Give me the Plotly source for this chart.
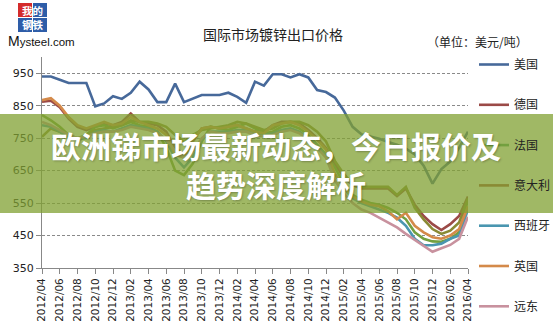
import plotly.graph_objects as go

W, H = 553, 329
ML, MR, MT, MB = 42, 85, 57, 61
PW, PH = W - ML - MR, H - MT - MB

def px(xp):
    return (xp - ML) / PW

def py(yp):
    return (H - MB - yp) / PH

# ---- data ----
months = []
for y in range(2012, 2017):
    for m in range(1, 13):
        if (y == 2012 and m < 4) or (y == 2016 and m > 4):
            continue
        months.append(f"{y}/{m:02d}")
tick_labels = months[::2]

series_names = ["美国", "德国", "法国", "意大利", "西班牙", "英国", "远东"]
series_colors = ["#47699A", "#9B4A47", "#73A03F", "#8A8A34", "#4A96B0", "#D48A4A", "#C8919E"]

us = [940, 940, 930, 920, 920, 920, 848, 857, 879, 871, 890, 924, 900, 861, 861, 918, 861,
      871, 883, 883, 883, 890, 877, 859, 924, 912, 947, 947, 937, 947, 937, 898, 892,
      875, 835, 785, 762, 755, 748, 738, 730, 718, 700, 665, 610, 655, 678, 720, 770]
germany = [862, 865, 845, 810, 785, 775, 785, 795, 790, 800, 826, 800, 795, 790, 770, 720, 700,
           745, 780, 785, 780, 785, 790, 780, 770, 770, 790, 800, 800, 795, 775, 750, 720,
           670, 630, 605, 595, 595, 595, 595, 572, 595, 545, 510, 485, 467, 485, 510, 570]
france = [821, 805, 785, 760, 750, 760, 785, 790, 780, 790, 800, 790, 785, 770, 720, 650, 636,
          672, 740, 785, 780, 775, 785, 795, 780, 765, 770, 785, 790, 780, 760, 730, 700,
          660, 610, 575, 560, 550, 545, 535, 520, 500, 460, 440, 432, 431, 440, 460, 560]
italy = [754, 780, 770, 750, 745, 760, 775, 780, 785, 790, 805, 800, 800, 795, 785, 760, 740,
         760, 775, 780, 785, 790, 800, 795, 785, 775, 780, 795, 800, 800, 790, 770, 740,
         680, 640, 610, 600, 600, 600, 600, 575, 600, 535, 500, 470, 455, 465, 490, 565]
spain = [790, 785, 770, 755, 745, 750, 770, 775, 770, 780, 790, 785, 780, 770, 740, 690, 660,
         690, 745, 770, 770, 770, 775, 775, 765, 760, 765, 775, 780, 770, 750, 725, 695,
         640, 595, 565, 550, 540, 530, 520, 505, 480, 440, 420, 420, 425, 440, 450, 530]
uk = [867, 873, 850, 815, 790, 780, 790, 800, 790, 795, 815, 800, 790, 780, 760, 700, 690,
      740, 780, 785, 780, 785, 790, 780, 770, 765, 790, 795, 800, 790, 770, 745, 715,
      640, 600, 570, 555, 545, 540, 525, 500, 520, 480, 460, 445, 440, 450, 470, 540]
far_east = [800, 790, 775, 760, 750, 755, 765, 770, 770, 775, 785, 780, 775, 765, 745, 710, 690,
            710, 750, 770, 765, 765, 770, 770, 760, 755, 760, 770, 775, 765, 745, 720, 690,
            620, 580, 550, 530, 520, 505, 490, 475, 455, 437, 420, 400, 411, 421, 440, 508]
all_series = [us, germany, france, italy, spain, uk, far_east]

chart_title = "国际市场镀锌出口价格"
unit_text = "（单位：美元/吨）"
banner_text = "欧洲锑市场最新动态，今日报价及<br>趋势深度解析"
logo_chars = "我的<br>钢铁"
logo_site = "<span style='font-size:14px'>M</span>ysteel.com"

CJK = "Noto Sans CJK SC, Noto Sans, sans-serif"
NUM = "DejaVu Sans, sans-serif"

fig = go.Figure()
for name, color, vals in zip(series_names, series_colors, all_series):
    fig.add_trace(go.Scatter(
        x=months, y=vals, name=name, mode="lines", legendgroup=name,
        line=dict(color=color, width=2.6), hoverinfo="skip"))

shapes = []
annotations = []

# banner overlay
shapes.append(dict(type="rect", xref="paper", yref="paper", layer="above",
                   x0=px(0), x1=px(W), y0=py(213), y1=py(114),
                   fillcolor="rgb(128,160,50)", opacity=0.75, line=dict(width=0)))
annotations.append(dict(xref="paper", yref="paper", x=px(276), y=py(164.5), text=f"<b>{banner_text}</b>",
                        showarrow=False, align="center",
                        font=dict(family=CJK, size=30, color="white",
                                  shadow="1px 1px 2px rgba(0,0,0,0.25)"),
                        xanchor="center", yanchor="middle"))

# title and unit
annotations.append(dict(xref="paper", yref="paper", x=px(273), y=py(34), text=chart_title,
                        showarrow=False, font=dict(family=CJK, size=14, color="#222"),
                        xanchor="center", yanchor="middle"))
annotations.append(dict(xref="paper", yref="paper", x=px(477), y=py(41), text=unit_text,
                        showarrow=False, font=dict(family=CJK, size=12, color="#222"),
                        xanchor="center", yanchor="middle"))

# logo
logo_boxes = [(18, 3, "#D42B2B"), (33, 3, "#2E5DA8"), (18, 18, "#2E5DA8"), (33, 18, "#2E5DA8")]
for x0, y0, c in logo_boxes:
    shapes.append(dict(type="rect", xref="paper", yref="paper", layer="above",
                       x0=px(x0), x1=px(x0 + 14), y0=py(y0 + 14), y1=py(y0),
                       fillcolor=c, line=dict(width=0)))
annotations.append(dict(xref="paper", yref="paper", x=px(32.5), y=py(17.5), text=f"<b>{logo_chars}</b>",
                        showarrow=False, font=dict(family=CJK, size=10.5, color="white"),
                        xanchor="center", yanchor="middle", borderpad=0))
annotations.append(dict(xref="paper", yref="paper", x=px(7), y=py(40.5), text=logo_site,
                        showarrow=False, font=dict(family="Liberation Sans, Arial", size=11.5, color="#111"),
                        xanchor="left", yanchor="middle", borderpad=0))

fig.update_layout(
    width=W, height=H,
    margin=dict(l=ML, r=MR, t=MT, b=MB, autoexpand=False),
    paper_bgcolor="white", plot_bgcolor="white",
    showlegend=True,
    legend=dict(xref="container", yref="container", x=474 / W, y=1 - 50 / H,
                xanchor="left", yanchor="top", tracegroupgap=21.3, itemwidth=30,
                maxheight=290,
                font=dict(family=CJK, size=12, color="#222"), bgcolor="rgba(0,0,0,0)",
                borderwidth=0),
    xaxis=dict(type="category", range=[0, len(months) - 1], tickmode="array",
               tickvals=tick_labels, ticktext=tick_labels, tickangle=-90,
               ticks="outside", ticklen=5, tickcolor="#888", showline=True, linecolor="#888",
               linewidth=1, showgrid=False, zeroline=False,
               tickfont=dict(family=NUM, size=10.5, color="#222")),
    yaxis=dict(range=[350, 1000], tick0=350, dtick=100, ticks="outside", ticklen=5,
               tickcolor="#888", showline=True, linecolor="#888", linewidth=1,
               showgrid=True, gridcolor="#8a8a8a", gridwidth=1, griddash="3px,2px",
               zeroline=False, tickfont=dict(family=NUM, size=11, color="#222")),
    shapes=shapes, annotations=annotations,
)

fig.write_html("out.html")
